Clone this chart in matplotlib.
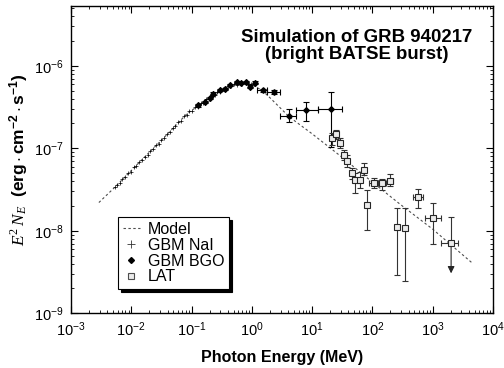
import matplotlib
matplotlib.use('Agg')
import matplotlib.pyplot as plt
import numpy as np
from matplotlib.lines import Line2D

plt.rcParams['font.family'] = ['Liberation Sans', 'DejaVu Sans']
plt.rcParams['mathtext.fontset'] = 'custom'
plt.rcParams['mathtext.rm'] = 'Liberation Serif'
plt.rcParams['mathtext.it'] = 'Liberation Serif:italic'
plt.rcParams['mathtext.bf'] = 'Liberation Sans:bold'

# Band model curve (MeV, erg cm^-2 s^-1)
model_e = [2.9e-3, 5.4e-3, 0.014, 0.034, 0.083, 0.18, 0.43, 0.75, 1.0,
           1.5, 2.0, 4.2, 10, 30, 100, 289, 1000, 4500]
model_f = [2.2e-8, 3.4e-8, 6.9e-8, 1.32e-7, 2.6e-7, 3.9e-7, 5.7e-7, 6.2e-7, 5.9e-7,
           5.0e-7, 4.1e-7, 2.4e-7, 1.5e-7, 8.0e-8, 3.9e-8, 2.1e-8, 1.05e-8, 4.1e-9]

# GBM NaI points
nai_e = [0.0054, 0.0058, 0.0064, 0.0071, 0.0079, 0.0088, 0.0098, 0.011, 0.012, 0.0135,
         0.015, 0.0167, 0.0186, 0.0207, 0.023, 0.0256, 0.0285, 0.0317, 0.0353, 0.0393,
         0.0437, 0.0486, 0.054, 0.060, 0.067, 0.075, 0.083, 0.092, 0.103, 0.114,
         0.127, 0.141, 0.157, 0.175, 0.195, 0.217, 0.241, 0.268, 0.298, 0.332,
         0.37, 0.41, 0.46, 0.51, 0.57, 0.63, 0.70, 0.78, 0.87, 0.97]
nai_f = [0.335, 0.362, 0.38, 0.425, 0.445, 0.495, 0.52, 0.585, 0.61, 0.68,
         0.72, 0.79, 0.84, 0.93, 0.98, 1.09, 1.14, 1.27, 1.34, 1.50,
         1.57, 1.76, 1.85, 2.08, 2.17, 2.44, 2.55, 2.80, 2.86, 3.15,
         3.20, 3.52, 3.58, 3.95, 3.98, 4.32, 4.38, 4.75, 4.80, 5.20,
         5.25, 5.68, 5.70, 6.00, 5.90, 6.15, 6.05, 6.30, 5.95, 6.05]  # x1e-7

# GBM BGO points
bgo_e = [0.13, 0.167, 0.20, 0.23, 0.30, 0.36, 0.44, 0.56, 0.66, 0.80, 0.93, 1.13,
         1.52, 2.34, 4.2, 7.98, 20.5]
bgo_f = [3.3, 3.65, 4.1, 4.6, 5.05, 5.3, 5.8, 6.4, 6.2, 6.4, 5.6, 6.25,
         5.07, 4.84, 2.48, 2.88, 2.98]  # x1e-7
bgo_lo = [3.2, 3.55, 4.0, 4.45, 4.9, 5.15, 5.65, 6.2, 6.0, 6.2, 5.4, 6.05,
          4.85, 4.6, 2.09, 2.15, 1.04]
bgo_hi = [3.4, 3.75, 4.2, 4.75, 5.2, 5.45, 5.95, 6.6, 6.4, 6.6, 5.8, 6.45,
          5.3, 5.1, 2.96, 3.6, 4.84]
bgo_elo = [0.13, 0.167, 0.20, 0.23, 0.30, 0.36, 0.44, 0.56, 0.66, 0.80, 0.93, 1.13,
           1.21, 1.77, 2.95, 5.43, 12.7]
bgo_ehi = [0.13, 0.167, 0.20, 0.23, 0.30, 0.36, 0.44, 0.56, 0.66, 0.80, 0.93, 1.13,
           1.77, 2.95, 5.43, 12.7, 31.1]

# LAT points (last one is an upper limit)
lat_e = [21.3, 25.1, 28.8, 34.4, 38.6, 45.7, 52.5, 62.8, 73.1, 83.0, 107, 144, 198,
         255, 355, 583, 1021, 2032]
lat_f = [13.2, 15.1, 11.7, 8.3, 7.06, 4.97, 4.12, 4.12, 5.44, 2.05, 3.82, 3.76, 4.0,
         1.10, 1.09, 2.54, 1.41, 0.705]  # x1e-8
lat_lo = [11.0, 13.0, 10.0, 7.2, 6.0, 4.3, 2.9, 3.3, 4.8, 1.02, 3.3, 3.1, 3.5,
          0.29, 0.246, 1.87, 0.685, 0.705]
lat_hi = [15.5, 16.8, 13.5, 9.5, 8.2, 5.7, 5.0, 5.2, 6.6, 3.12, 4.4, 4.2, 4.9,
          1.9, 1.9, 3.25, 2.16, 1.48]
lat_elo = [20.0, 23.8, 27.3, 32.6, 36.6, 43.3, 49.8, 59.5, 69.3, 83.0, 89.8, 126, 174,
           235, 330, 481, 753, 1371]
lat_ehi = [22.6, 26.5, 30.4, 36.3, 40.7, 48.2, 55.4, 66.2, 77.1, 83.0, 122, 167, 224,
           277, 382, 705, 1371, 2685]
lat_limit_end = 0.305  # x1e-8, arrow tip of the upper limit

fig = plt.figure(figsize=(5.04, 3.68), dpi=100)
ax = fig.add_axes([0.1409, 0.1486, 0.8369, 0.8351])

dash = (0, (2.2, 2.2))
ax.plot(model_e, model_f, color='0.3', lw=0.8, ls=dash, zorder=1)

ax.plot(nai_e, np.array(nai_f) * 1e-7, ls='none', marker='+', ms=3, mew=0.5,
        color='k', zorder=3)

bf = np.array(bgo_f) * 1e-7
be = np.array(bgo_e)
ax.errorbar(be, bf,
            yerr=[bf - np.array(bgo_lo) * 1e-7, np.array(bgo_hi) * 1e-7 - bf],
            xerr=[be - np.array(bgo_elo), np.array(bgo_ehi) - be],
            fmt='D', ms=2.8, color='k', ecolor='k', elinewidth=0.8, capsize=2,
            capthick=0.8, zorder=4)

lf = np.array(lat_f) * 1e-8
le = np.array(lat_e)
ax.errorbar(le, lf,
            yerr=[lf - np.array(lat_lo) * 1e-8, np.array(lat_hi) * 1e-8 - lf],
            xerr=[le - np.array(lat_elo), np.array(lat_ehi) - le],
            fmt='s', ms=4.8, mfc='0.92', mec='0.15', mew=0.8, ecolor='0.2',
            elinewidth=0.8, capsize=2, capthick=0.8, zorder=5)
ax.annotate('', xy=(lat_e[-1], lat_limit_end * 1e-8), xytext=(lat_e[-1], lf[-1]),
            arrowprops=dict(arrowstyle='-|>,head_length=0.4,head_width=0.2',
                            color='0.15', lw=0.8, shrinkA=0, shrinkB=0), zorder=5)

ax.set_xscale('log')
ax.set_yscale('log')
ax.set_xlim(1e-3, 1e4)
ax.set_ylim(1e-9, 5.3e-6)

ax.tick_params(which='both', direction='in', top=True, right=True, labelsize=10.5)
ax.tick_params(which='major', length=5, width=0.8, pad=5)
ax.tick_params(which='minor', length=2.5, width=0.6)
for s in ax.spines.values():
    s.set_linewidth(1.0)

ax.set_xlabel('Photon Energy (MeV)', fontsize=11.5, fontweight='bold', labelpad=8)
ax.set_ylabel(r'$E^2\,N_E$  $\mathbf{(erg \cdot cm^{-2} \cdot s^{-1})}$', fontsize=12.5,
              labelpad=3)

ax.text(0.678, 0.870, 'Simulation of GRB 940217\n(bright BATSE burst)',
        transform=ax.transAxes, ha='center', va='center', fontsize=13.4,
        fontweight='bold', linespacing=1.0)

handles = [
    Line2D([], [], color='0.3', lw=0.8, ls=dash),
    Line2D([], [], ls='none', marker='+', ms=6, mew=0.6, color='0.2'),
    Line2D([], [], ls='none', marker='D', ms=3, color='k'),
    Line2D([], [], ls='none', marker='s', ms=4.2, mfc='0.92', mec='0.3', mew=0.8),
]
labels = ['Model', 'GBM NaI', 'GBM BGO', 'LAT']
leg = ax.legend(handles, labels, loc='upper left', bbox_to_anchor=(0.111, 0.313),
                fontsize=11.5, frameon=True, fancybox=False, edgecolor='k',
                framealpha=1, shadow={'color': 'k', 'alpha': 1}, borderaxespad=0,
                borderpad=0.3, labelspacing=0.05, handlelength=1.1, handletextpad=0.5)
leg.get_frame().set_linewidth(0.8)

fig.savefig('out.png', dpi=100)
